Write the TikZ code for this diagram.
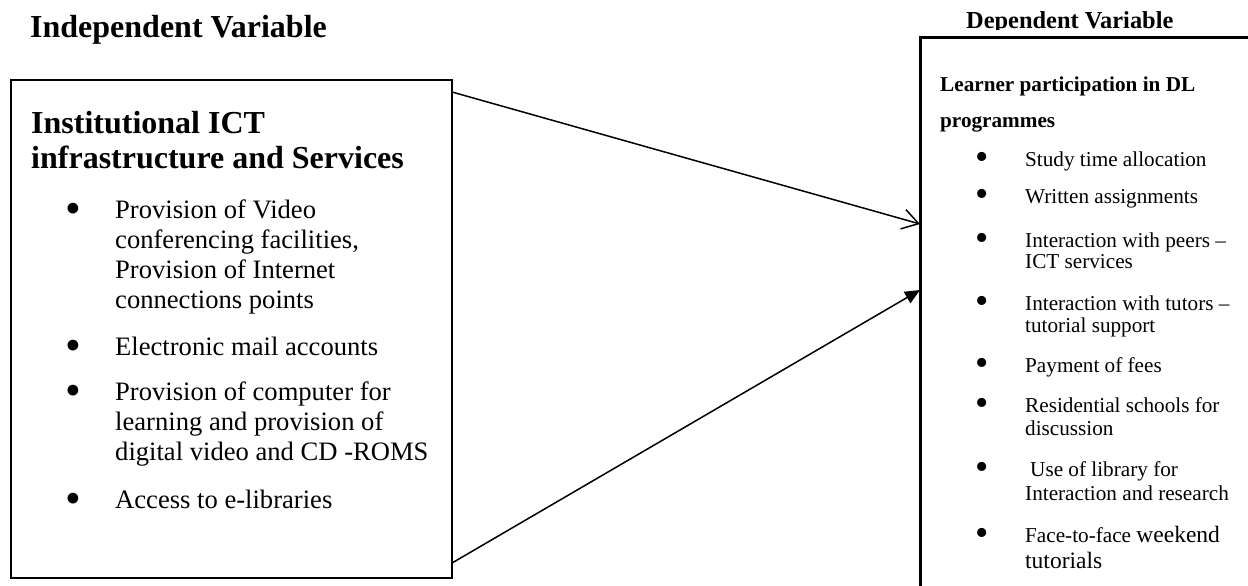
\documentclass[tikz,border=0pt]{standalone}
\usepackage{fontspec}
\setmainfont{Liberation Serif}
\usetikzlibrary{arrows.meta}

\tikzset{
  box/.style={draw, rectangle, line width=2pt, inner sep=0pt, outer sep=0pt, anchor=north west},
  heading/.style={anchor=base west, inner sep=0pt, font=\bfseries\fontsize{32}{35}\selectfont},
  dvtitle/.style={anchor=base west, inner sep=0pt, font=\bfseries\fontsize{24.4}{26}\selectfont},
  dvhead/.style={anchor=base west, inner sep=0pt, font=\bfseries\fontsize{21.2}{24}\selectfont},
  ictline/.style={anchor=base west, inner sep=0pt, font=\fontsize{26.6}{30}\selectfont},
  dvline/.style={anchor=base west, inner sep=0pt, font=\fontsize{21.2}{22}\selectfont},
  ictdot/.style={anchor=base, inner sep=0pt, yshift=-5.5pt, font=\fontsize{45}{45}\selectfont},
  dvdot/.style={anchor=base, inner sep=0pt, yshift=-3.5pt, font=\fontsize{38}{38}\selectfont},
  link/.style={line width=1.5pt},
}

\begin{document}
\begin{tikzpicture}[x=1pt,y=-1pt]
  \useasboundingbox (0,0) rectangle (1248,586);
  \clip (0,0) rectangle (1248,586);

  \node [heading] (ivtitle) at (30,38) {Independent Variable};
  \begin{scope}
    \clip (900,0) rectangle (1248,30);
    \node [dvtitle] (dvtitle) at (966,29) {Dependent Variable};
  \end{scope}

  \node [box, minimum width=441pt, minimum height=498pt] (ictbox) at (11,80) {};
  \node [box, line width=3pt, minimum width=400pt, minimum height=600pt] (dvbox) at (920,38) {};

  \node [heading] (ict1) at (31,133) {Institutional ICT};
  \node [heading] (ict2) at (31,168) {infrastructure and Services};

  \foreach \y [count=\i] in {218,355,400,508}
    \node [ictdot] (ictdot\i) at (73,\y) {\textbullet};
  \foreach \y/\t [count=\i] in {218/Provision of Video, 248/{conferencing facilities,},
      278/Provision of Internet, 308/connections points, 355/Electronic mail accounts,
      400/Provision of computer for, 430/learning and provision of,
      460/digital video and CD -ROMS, 508/Access to e-libraries}
    \node [ictline] (ictline\i) at (115,\y) {\t};

  \node [dvhead] (dv1) at (940,92) {Learner participation in DL};
  \node [dvhead] (dv2) at (940,127) {programmes};

  \foreach \y [count=\i] in {166,203,247,310,372,412,476,542}
    \node [dvdot] (dvdot\i) at (982,\y) {\textbullet};
  \foreach \y/\t [count=\i] in {166/Study time allocation, 203/Written assignments,
      247/Interaction with peers –, 268/ICT services, 310/Interaction with tutors –,
      332/tutorial support, 372/Payment of fees, 412/Residential schools for,
      435/discussion, 500/Interaction and research}
    \node [dvline] (dvline\i) at (1025,\y) {\t};
  \node [dvline] (dvuse) at (1030,476) {Use of library for};
  \node [dvline] (dvface) at (1025,542) {Face-to-face {\fontsize{23.5}{26}\selectfont weekend}};
  \node [dvline, font=\fontsize{23.5}{26}\selectfont] (dvtut) at (1025,568) {tutorials};

  \draw [link, -{Straight Barb[length=16pt,width=20pt]}] ([yshift=-12pt]ictbox.north east) -- ([yshift=-186pt]dvbox.north west);
  \draw [link, -{Triangle[length=15pt,width=13pt]}] ([yshift=15pt]ictbox.south east) -- ([yshift=-252pt]dvbox.north west);
\end{tikzpicture}
\end{document}
